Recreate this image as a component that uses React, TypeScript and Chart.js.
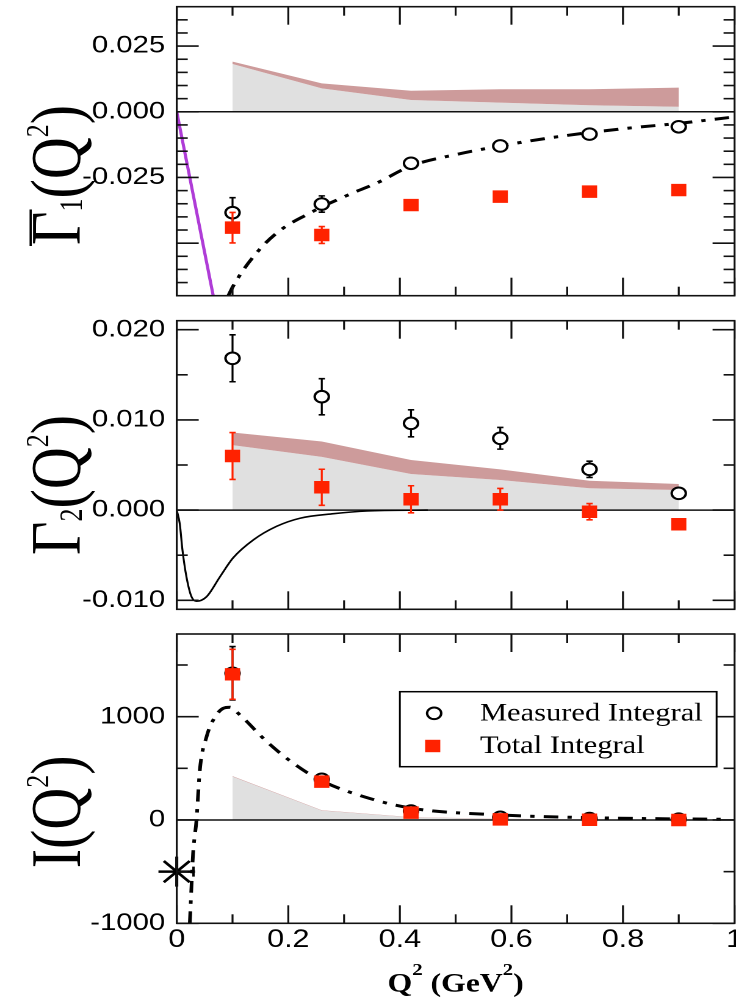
import React, { useEffect, useRef } from "react";
import { Chart, registerables } from "chart.js";

Chart.register(...registerables);

// ---------- layout constants (logical canvas units; canvas is stretched to 736px wide) ----------
const CSS_W = 736;
const LOGICAL_W = 603;
const AREA_LEFT = 144.8;
const AREA_RIGHT = 601.8;

const INK = "#111";
const RED = "#ff2200";
const GRAY = "#e0e0e0";
const BROWN = "rgb(205,155,155)";
const PURPLE = "rgb(175,60,215)";

// ---------- shared x data ----------
const X_POINTS = [0.1, 0.26, 0.42, 0.58, 0.74, 0.9];
const X_MAJOR_TICKS = [0, 0.2, 0.4, 0.6, 0.8, 1];
const X_MINOR_TICKS = [0.1, 0.3, 0.5, 0.7, 0.9];
const X_TICK_LABELS = ["0", "0.2", "0.4", "0.6", "0.8", "1"];
const LEGEND_LABELS = ["Total Integral", "Measured Integral"];

// ---------- panel 1: Gamma1-bar ----------
const G1_MEASURED = [-0.0384, -0.0351, -0.0196, -0.013, -0.0085, -0.0057];
const G1_MEASURED_ERR = [0.0057, 0.0031, 0.0012, 0.001, 0.001, 0.001];
const G1_TOTAL = [-0.0441, -0.0469, -0.0355, -0.0323, -0.0304, -0.0298];
const G1_TOTAL_ERR = [0.0058, 0.0032, 0.001, 0.001, 0.001, 0.001];
const G1_BAND_LOW = [0.0182, 0.0089, 0.0045, 0.0035, 0.0025, 0.0019];
const G1_BAND_HIGH = [0.0191, 0.0108, 0.008, 0.0086, 0.0086, 0.0092];
const G1_MODEL_X = [0.0925, 0.1, 0.12, 0.14, 0.16, 0.18, 0.2, 0.23, 0.26, 0.29, 0.32, 0.36, 0.42, 0.5, 0.58, 0.66, 0.74, 0.82, 0.9, 0.99];
const G1_MODEL_Y = [-0.07, -0.0668, -0.06, -0.0545, -0.0498, -0.046, -0.043, -0.0395, -0.0362, -0.0333, -0.0305, -0.027, -0.0206, -0.0163, -0.013, -0.0102, -0.0079, -0.006, -0.0044, -0.0022];
const G1_SLOPE_X = [0, 0.068];
const G1_SLOPE_Y = [0, -0.0728];
const G1_Y_LABELS = [-0.025, 0, 0.025];
const G1_Y_MAJOR = [-0.05, -0.025, 0, 0.025];
const G1_Y_MINOR = [-0.065, -0.06, -0.055, -0.045, -0.04, -0.035, -0.03, -0.02, -0.015, -0.01, -0.005, 0.005, 0.01, 0.015, 0.02, 0.03, 0.035];

// ---------- panel 2: Gamma2 ----------
const G2_MEASURED = [0.01683, 0.01257, 0.00962, 0.00796, 0.00452, 0.00186];
const G2_MEASURED_ERR = [0.0026, 0.002, 0.0015, 0.0012, 0.0009, 0.0005];
const G2_TOTAL = [0.006, 0.00253, 0.0012, 0.0012, -0.00018, -0.00157];
const G2_TOTAL_ERR = [0.0026, 0.002, 0.0015, 0.0012, 0.0009, 0.0004];
const G2_BAND_LOW = [0.0072, 0.0059, 0.004, 0.00334, 0.00242, 0.00223];
const G2_BAND_HIGH = [0.0086, 0.0076, 0.00556, 0.00452, 0.00326, 0.0029];
const G2_MODEL_X = [0, 0.0054, 0.0102, 0.0174, 0.0264, 0.0354, 0.0535, 0.0774, 0.101, 0.1374, 0.179, 0.221, 0.281, 0.341, 0.45];
const G2_MODEL_Y = [0, -0.0015, -0.0044, -0.0074, -0.0096, -0.0101, -0.0096, -0.0074, -0.0053, -0.0033, -0.0018, -0.0009, -0.0004, -0.0001, 0];
const G2_Y_LABELS = [-0.01, 0, 0.01, 0.02];
const G2_Y_MAJOR = [-0.01, 0, 0.01, 0.02];
const G2_Y_MINOR = [-0.005, 0.005, 0.015];

// ---------- panel 3: I ----------
const I_MEASURED = [1420, 394, 87, 26, 14, 8];
const I_MEASURED_ERR = [258, 20, 10, 5, 5, 5];
const I_TOTAL = [1410, 371, 71, 6, 2, 0];
const I_TOTAL_ERR = [242, 20, 10, 5, 5, 5];
const I_BAND_LOW = [419, 90, 25, 10, 5, 3];
const I_BAND_HIGH = [425, 94, 28, 12, 6, 4];
const I_MODEL_X = [0.0234, 0.0264, 0.0293, 0.0354, 0.0414, 0.0535, 0.0654, 0.0834, 0.0954, 0.1134, 0.1615, 0.209, 0.257, 0.335, 0.422, 0.583, 0.743, 0.903, 0.986];
const I_MODEL_Y = [-1000, -645, -323, 0, 484, 806, 968, 1081, 1091, 1016, 758, 549, 387, 226, 113, 48, 22, 10, 7];
const I_STAR_X = [0];
const I_STAR_Y = [-500];
const I_STAR_XERR = [0.03];
const I_Y_LABELS = [-1000, 0, 1000];
const I_Y_MAJOR = [-1000, 0, 1000];
const I_Y_MINOR = [-500, 500, 1500];

const DASH_DOT = [12, 7.5, 3.5, 7.5];

type TitlePart = { t: string; size: number; dy: number };
type Curve = { label: string; xs: number[]; ys: number[]; color: string; width: number; dash?: number[] };

interface PanelSpec {
  cssTop: number;
  height: number;
  areaTop: number;
  areaBottom: number;
  yMin: number;
  yMax: number;
  yLabels: number[];
  yDecimals: number;
  yMajor: number[];
  yMinor: number[];
  showX: boolean;
  measured: number[];
  measuredErr: number[];
  total: number[];
  totalErr: number[];
  bandLow: number[];
  bandHigh: number[];
  curves: Curve[];
  title: TitlePart[];
  titleStartY: number;
  overline?: boolean;
  star?: { x: number[]; y: number[]; xerr: number[] };
  legend?: boolean;
}

const PANELS: PanelSpec[] = [
  {
    cssTop: 0, height: 310, areaTop: 6.7, areaBottom: 295.7,
    yMin: -0.07, yMax: 0.04, yLabels: G1_Y_LABELS, yDecimals: 3, yMajor: G1_Y_MAJOR, yMinor: G1_Y_MINOR,
    showX: false,
    measured: G1_MEASURED, measuredErr: G1_MEASURED_ERR, total: G1_TOTAL, totalErr: G1_TOTAL_ERR,
    bandLow: G1_BAND_LOW, bandHigh: G1_BAND_HIGH,
    curves: [
      { label: "slope", xs: G1_SLOPE_X, ys: G1_SLOPE_Y, color: PURPLE, width: 2.6 },
      { label: "model", xs: G1_MODEL_X, ys: G1_MODEL_Y, color: "#000", width: 3, dash: DASH_DOT },
    ],
    title: [
      { t: "Γ", size: 58, dy: 0 },
      { t: "1", size: 26, dy: 1.5 },
      { t: "(Q", size: 58, dy: 0 },
      { t: "2", size: 26, dy: -26 },
      { t: ")", size: 58, dy: 0 },
    ],
    titleStartY: 245, overline: true,
  },
  {
    cssTop: 310, height: 310, areaTop: 10.7, areaBottom: 299.3,
    yMin: -0.011, yMax: 0.021, yLabels: G2_Y_LABELS, yDecimals: 3, yMajor: G2_Y_MAJOR, yMinor: G2_Y_MINOR,
    showX: false,
    measured: G2_MEASURED, measuredErr: G2_MEASURED_ERR, total: G2_TOTAL, totalErr: G2_TOTAL_ERR,
    bandLow: G2_BAND_LOW, bandHigh: G2_BAND_HIGH,
    curves: [{ label: "model", xs: G2_MODEL_X, ys: G2_MODEL_Y, color: "#000", width: 1.6 }],
    title: [
      { t: "Γ", size: 58, dy: 0 },
      { t: "2", size: 26, dy: 1.5 },
      { t: "(Q", size: 58, dy: 0 },
      { t: "2", size: 26, dy: -26 },
      { t: ")", size: 58, dy: 0 },
    ],
    titleStartY: 245,
  },
  {
    cssTop: 620, height: 380, areaTop: 14, areaBottom: 303.3,
    yMin: -1000, yMax: 1800, yLabels: I_Y_LABELS, yDecimals: 0, yMajor: I_Y_MAJOR, yMinor: I_Y_MINOR,
    showX: true,
    measured: I_MEASURED, measuredErr: I_MEASURED_ERR, total: I_TOTAL, totalErr: I_TOTAL_ERR,
    bandLow: I_BAND_LOW, bandHigh: I_BAND_HIGH,
    curves: [{ label: "model", xs: I_MODEL_X, ys: I_MODEL_Y, color: "#000", width: 3, dash: DASH_DOT }],
    title: [
      { t: "I", size: 58, dy: 0 },
      { t: "(Q", size: 58, dy: 0 },
      { t: "2", size: 26, dy: -26 },
      { t: ")", size: 58, dy: 0 },
    ],
    titleStartY: 248.3,
    star: { x: I_STAR_X, y: I_STAR_Y, xerr: I_STAR_XERR },
    legend: true,
  },
];

const pts = (xs: number[], ys: number[]) => xs.map((x, i) => ({ x, y: ys[i] }));

function line(ctx: CanvasRenderingContext2D, x1: number, y1: number, x2: number, y2: number) {
  ctx.beginPath();
  ctx.moveTo(x1, y1);
  ctx.lineTo(x2, y2);
  ctx.stroke();
}

function vErrorBars(chart: any, xs: number[], ys: number[], errs: number[], color: string, width: number, cap: number) {
  const { ctx, scales } = chart;
  ctx.save();
  ctx.strokeStyle = color;
  ctx.lineWidth = width;
  xs.forEach((xv, i) => {
    const px = scales.x.getPixelForValue(xv);
    const y1 = scales.y.getPixelForValue(ys[i] - errs[i]);
    const y2 = scales.y.getPixelForValue(ys[i] + errs[i]);
    line(ctx, px, y1, px, y2);
    line(ctx, px - cap, y1, px + cap, y1);
    line(ctx, px - cap, y2, px + cap, y2);
  });
  ctx.restore();
}

function clipArea(chart: any) {
  const a = chart.chartArea;
  chart.ctx.beginPath();
  chart.ctx.rect(a.left, a.top, a.right - a.left, a.bottom - a.top);
  chart.ctx.clip();
}

function drawRichText(ctx: CanvasRenderingContext2D, parts: TitlePart[], x0: number, bold: boolean, overline: boolean) {
  let x = x0;
  parts.forEach((p, i) => {
    ctx.font = `${bold ? "bold " : ""}${p.size}px "Liberation Serif"`;
    ctx.fillText(p.t, x, p.dy);
    const w = ctx.measureText(p.t).width;
    if (overline && i === 0) {
      ctx.lineWidth = 1.8;
      line(ctx, x - 1, -40.4, x + w + 2, -40.4);
    }
    x += w;
  });
  return x - x0;
}

function richWidth(ctx: CanvasRenderingContext2D, parts: TitlePart[], bold: boolean) {
  let w = 0;
  parts.forEach((p) => {
    ctx.font = `${bold ? "bold " : ""}${p.size}px "Liberation Serif"`;
    w += ctx.measureText(p.t).width;
  });
  return w;
}

const X_TITLE: TitlePart[] = [
  { t: "Q", size: 26, dy: 0 },
  { t: "2", size: 17, dy: -16.7 },
  { t: " (GeV", size: 26, dy: 0 },
  { t: "2", size: 17, dy: -16.7 },
  { t: ")", size: 26, dy: 0 },
];

function decorPlugin(spec: PanelSpec) {
  return {
    id: "panelDecor",
    beforeDatasetsDraw(chart: any) {
      const { ctx, chartArea: a, scales } = chart;
      ctx.save();
      ctx.strokeStyle = INK;
      ctx.lineWidth = 1.5;
      const y0 = scales.y.getPixelForValue(0);
      line(ctx, a.left, y0, a.right, y0);
      clipArea(chart);
      vErrorBars(chart, X_POINTS, spec.measured, spec.measuredErr, "#000", 1.6, 2.6);
      if (spec.star) {
        const s = spec.star;
        ctx.strokeStyle = "#000";
        ctx.lineWidth = 2;
        s.x.forEach((xv, i) => {
          const py = scales.y.getPixelForValue(s.y[i]);
          const x1 = scales.x.getPixelForValue(xv - s.xerr[i]);
          const x2 = scales.x.getPixelForValue(xv + s.xerr[i]);
          line(ctx, x1, py, x2, py);
          line(ctx, x2, py - 5, x2, py + 5);
          line(ctx, x1, py - 5, x1, py + 5);
        });
      }
      ctx.restore();
    },
    afterDatasetDraw(chart: any, args: any) {
      if (args.index === 1) {
        chart.ctx.save();
        clipArea(chart);
        vErrorBars(chart, X_POINTS, spec.total, spec.totalErr, RED, 1.6, 2.6);
        chart.ctx.restore();
      }
    },
    afterDraw(chart: any) {
      const { ctx, chartArea: a, scales } = chart;
      ctx.save();
      ctx.strokeStyle = INK;
      ctx.lineWidth = 1.6;
      // ticks (inward, all four sides)
      X_MAJOR_TICKS.forEach((v) => {
        const p = scales.x.getPixelForValue(v);
        line(ctx, p, a.top, p, a.top + 18);
        line(ctx, p, a.bottom, p, a.bottom - 18);
      });
      X_MINOR_TICKS.forEach((v) => {
        const p = scales.x.getPixelForValue(v);
        line(ctx, p, a.top, p, a.top + 9);
        line(ctx, p, a.bottom, p, a.bottom - 9);
      });
      spec.yMajor.forEach((v) => {
        const p = scales.y.getPixelForValue(v);
        line(ctx, a.left, p, a.left + 18, p);
        line(ctx, a.right, p, a.right - 18, p);
      });
      spec.yMinor.forEach((v) => {
        const p = scales.y.getPixelForValue(v);
        line(ctx, a.left, p, a.left + 9, p);
        line(ctx, a.right, p, a.right - 9, p);
      });
      // frame
      ctx.lineWidth = 1.6;
      ctx.strokeRect(a.left, a.top, a.right - a.left, a.bottom - a.top);

      // rotated y title
      ctx.save();
      ctx.fillStyle = "#000";
      ctx.strokeStyle = "#000";
      ctx.textBaseline = "alphabetic";
      ctx.textAlign = "left";
      ctx.translate(65.5, spec.titleStartY);
      ctx.rotate(-Math.PI / 2);
      drawRichText(ctx, spec.title, 0, false, !!spec.overline);
      ctx.restore();

      if (spec.showX) {
        ctx.save();
        ctx.fillStyle = "#000";
        ctx.textBaseline = "alphabetic";
        ctx.textAlign = "left";
        const w = richWidth(ctx, X_TITLE, true);
        ctx.translate((a.left + a.right) / 2 - w / 2, 371.7);
        drawRichText(ctx, X_TITLE, 0, true, false);
        ctx.restore();
      }

      if (spec.legend) {
        const labels = chart.data.datasets;
        ctx.save();
        ctx.fillStyle = "#fff";
        ctx.fillRect(327.6, 71.7, 259.5, 75);
        ctx.strokeStyle = "#000";
        ctx.lineWidth = 1.5;
        ctx.strokeRect(327.6, 71.7, 259.5, 75);
        // measured entry
        ctx.beginPath();
        ctx.arc(355.7, 93.3, 5.8, 0, Math.PI * 2);
        ctx.fillStyle = "#fff";
        ctx.fill();
        ctx.lineWidth = 2;
        ctx.stroke();
        // total entry
        ctx.fillStyle = RED;
        ctx.fillRect(354.5 - 6.2, 126 - 6.2, 12.4, 12.4);
        ctx.fillStyle = "#000";
        ctx.font = '25px "Liberation Serif"';
        ctx.textBaseline = "alphabetic";
        ctx.textAlign = "left";
        ctx.fillText(labels[1].label, 393.2, 100.5);
        ctx.fillText(labels[0].label, 393.2, 132.8);
        ctx.restore();
      }
      ctx.restore();
    },
  };
}

function buildConfig(spec: PanelSpec): any {
  const datasets: any[] = [];
  datasets.push({
    label: LEGEND_LABELS[0],
    data: pts(X_POINTS, spec.total),
    showLine: false,
    pointStyle: "rect",
    pointRadius: 8.8,
    pointHoverRadius: 8.8,
    pointBackgroundColor: RED,
    pointBorderColor: RED,
    pointBorderWidth: 0,
  });
  datasets.push({
    label: LEGEND_LABELS[1],
    data: pts(X_POINTS, spec.measured),
    showLine: false,
    pointStyle: "circle",
    pointRadius: 5.8,
    pointHoverRadius: 5.8,
    pointBackgroundColor: "#fff",
    pointBorderColor: "#000",
    pointBorderWidth: 2,
  });
  if (spec.star) {
    datasets.push({
      label: "sum rule",
      data: pts(spec.star.x, spec.star.y),
      showLine: false,
      pointStyle: "star",
      pointRadius: 15,
      pointHoverRadius: 15,
      pointBorderColor: "#000",
      pointBorderWidth: 2.5,
      clip: false,
    });
  }
  spec.curves.forEach((c) => {
    datasets.push({
      label: c.label,
      data: pts(c.xs, c.ys),
      showLine: true,
      borderColor: c.color,
      borderWidth: c.width,
      borderDash: c.dash || [],
      borderCapStyle: "butt",
      pointRadius: 0,
      pointHoverRadius: 0,
      cubicInterpolationMode: "monotone",
      fill: false,
    });
  });
  datasets.push({
    label: "band high",
    data: pts(X_POINTS, spec.bandHigh),
    showLine: true,
    borderWidth: 0,
    borderColor: "rgba(0,0,0,0)",
    backgroundColor: BROWN,
    pointRadius: 0,
    pointHoverRadius: 0,
    fill: "+1",
  });
  datasets.push({
    label: "band low",
    data: pts(X_POINTS, spec.bandLow),
    showLine: true,
    borderWidth: 0,
    borderColor: "rgba(0,0,0,0)",
    backgroundColor: GRAY,
    pointRadius: 0,
    pointHoverRadius: 0,
    fill: "origin",
  });

  return {
    type: "line",
    data: { datasets },
    plugins: [decorPlugin(spec)],
    options: {
      animation: false,
      responsive: false,
      devicePixelRatio: 2,
      events: [],
      layout: {
        autoPadding: false,
        padding: {
          left: 0,
          right: LOGICAL_W - AREA_RIGHT,
          top: spec.areaTop,
          bottom: spec.showX ? 0 : spec.height - spec.areaBottom,
        },
      },
      elements: { line: { tension: 0 } },
      plugins: {
        legend: { display: false },
        tooltip: { enabled: false },
        filler: { drawTime: "beforeDatasetsDraw", propagate: false },
      },
      scales: {
        x: {
          type: "linear",
          min: 0,
          max: 1,
          display: spec.showX,
          grid: { display: false, drawTicks: false },
          border: { display: false },
          ticks: {
            autoSkip: false,
            maxRotation: 0,
            padding: 2,
            color: "#000",
            font: { family: "Liberation Sans", size: 25 },
            callback: (_v: any, i: number) => X_TICK_LABELS[i],
          },
          afterBuildTicks: (scale: any) => {
            scale.ticks = X_MAJOR_TICKS.map((v) => ({ value: v }));
          },
          afterFit: (scale: any) => {
            scale.height = spec.showX ? spec.height - spec.areaBottom : 0;
            scale.paddingLeft = 0;
            scale.paddingRight = 0;
          },
        },
        y: {
          type: "linear",
          min: spec.yMin,
          max: spec.yMax,
          grid: { display: false, drawTicks: false },
          border: { display: false },
          ticks: {
            padding: 9.5,
            color: "#000",
            font: { family: "Liberation Sans", size: 24 },
            callback: (v: any) => Number(v).toFixed(spec.yDecimals),
          },
          afterBuildTicks: (scale: any) => {
            scale.ticks = spec.yLabels.map((v) => ({ value: v }));
          },
          afterFit: (scale: any) => {
            scale.width = AREA_LEFT;
            scale.paddingTop = 0;
            scale.paddingBottom = 0;
          },
        },
      },
    },
  };
}

function Panel({ spec }: { spec: PanelSpec }) {
  const ref = useRef<HTMLCanvasElement | null>(null);
  useEffect(() => {
    if (!ref.current) return;
    const chart = new Chart(ref.current, buildConfig(spec));
    return () => chart.destroy();
  }, [spec]);
  return (
    <canvas
      ref={ref}
      width={LOGICAL_W}
      height={spec.height}
      style={{
        position: "absolute",
        left: 0,
        top: spec.cssTop,
        width: CSS_W + "px",
        height: spec.height + "px",
        display: "block",
      }}
    />
  );
}

export default function App() {
  return (
    <div style={{ position: "absolute", left: 0, top: 0, width: CSS_W, height: 1000, background: "#fff", overflow: "hidden" }}>
      {PANELS.map((p, i) => (
        <Panel key={i} spec={p} />
      ))}
    </div>
  );
}
